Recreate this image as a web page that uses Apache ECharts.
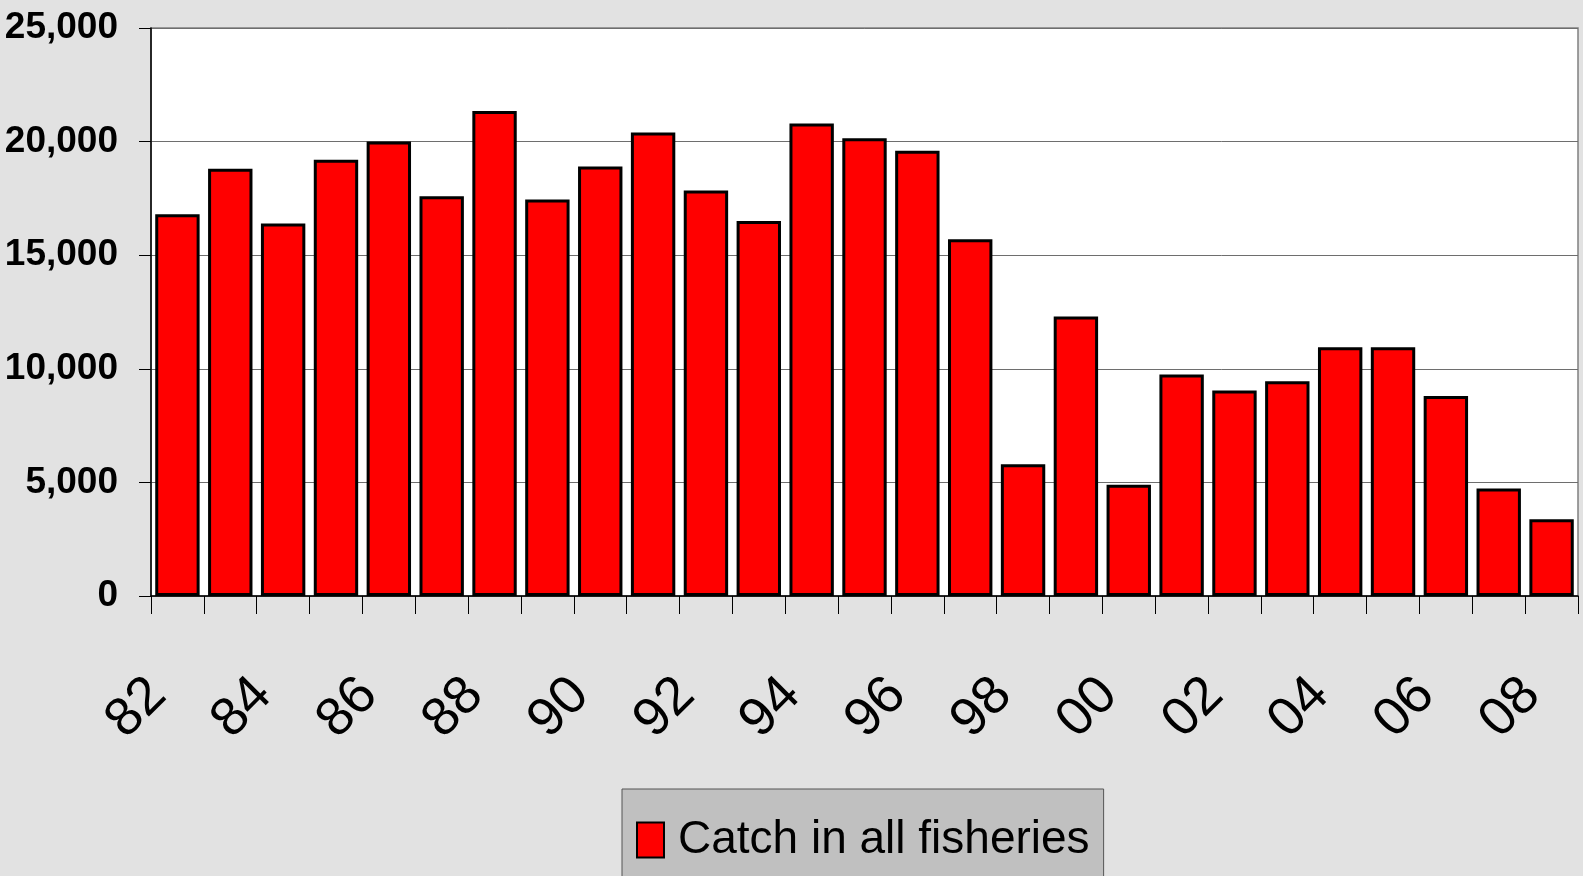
<!DOCTYPE html>
<html>
<head>
<meta charset="utf-8">
<script src="https://cdn.jsdelivr.net/npm/echarts@6/dist/echarts.min.js"></script>
<style>
html,body{margin:0;padding:0;background:#e2e2e2;}
#chart{width:1583px;height:876px;}
</style>
</head>
<body>
<div id="chart"></div>
<script>
const years = ['82','83','84','85','86','87','88','89','90','91','92','93','94','95','96','97','98','99','00','01','02','03','04','05','06','07','08'];
const catch_all = [16800,18800,16400,19200,20000,17600,21350,17450,18900,20400,17850,16500,20800,20150,19600,15700,5800,12300,4900,9750,9050,9450,10950,10950,8800,4730,3380];
const seriesName = 'Catch in all fisheries';
const yTicks = {min:0, max:25000, interval:5000};

const chart = echarts.init(document.getElementById('chart'));
chart.setOption({
  backgroundColor:'#e2e2e2',
  animation:false,
  grid:{left:151, right:5, top:28, bottom:280, show:true, backgroundColor:'#ffffff', borderColor:'#808080', borderWidth:1.5},
  legend:{
    data:[{name:seriesName, icon:'rect'}],
    left:622, top:789,
    itemWidth:27, itemHeight:35,
    padding:[28,14,40,14],
    backgroundColor:'#c0c0c0', borderColor:'#555', borderWidth:1,
    itemStyle:{borderColor:'#000', borderWidth:2},
    textStyle:{fontFamily:'Liberation Sans', fontSize:46, color:'#000', padding:[0,0,0,9]}
  },
  xAxis:{
    type:'category', data:years,
    axisLine:{lineStyle:{color:'#000', width:1.5}},
    axisTick:{show:true, interval:0, length:18, lineStyle:{color:'#000', width:1}},
    axisLabel:{interval:1, rotate:45, margin:71, padding:[0,28,0,0], fontFamily:'Liberation Sans', fontSize:54, color:'#000'},
    splitLine:{show:false}
  },
  yAxis:{
    type:'value', min:yTicks.min, max:yTicks.max, interval:yTicks.interval,
    axisLine:{show:true, lineStyle:{color:'#000', width:1.5}},
    axisTick:{show:true, length:12, lineStyle:{color:'#000'}},
    axisLabel:{margin:33, fontFamily:'Liberation Sans', fontWeight:'bold', fontSize:37, color:'#000',
      formatter:v=>v.toLocaleString('en-US')},
    splitLine:{show:true, lineStyle:{color:'#6e6e6e', width:1}}
  },
  series:[{
    name:seriesName, type:'bar', data:catch_all, barWidth:'84%',
    itemStyle:{color:'#ff0000', borderColor:'#000', borderWidth:3}
  }]
});
</script>
</body>
</html>
